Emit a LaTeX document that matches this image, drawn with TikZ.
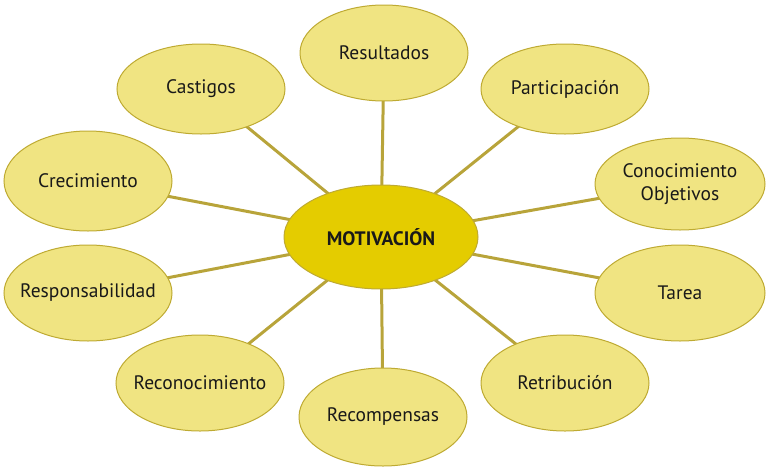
\documentclass[tikz,border=0pt]{standalone}
\usepackage{fontspec}
\setmainfont{PT Sans}
\usetikzlibrary{shapes.geometric,backgrounds}
\begin{document}
\begin{tikzpicture}[x=1pt,y=-1pt,
  outer/.style={ellipse, draw=bordercol, line width=1pt, fill=outerfill, minimum width=168pt, minimum height=96pt, inner sep=0pt},
  lbl/.style={align=center, inner sep=0pt, font=\fontsize{19.5}{23}\selectfont, text=black!90},
  centre/.style={ellipse, draw=bordercol, line width=1pt, fill=centrefill, minimum width=194pt, minimum height=104pt, inner sep=0pt},
  clbl/.style={inner sep=0pt, font=\fontsize{19.5}{23}\selectfont\bfseries, text=black!90},
  link/.style={draw=linkcol, line width=3pt}]
\definecolor{outerfill}{RGB}{240,228,130}
\definecolor{centrefill}{RGB}{228,204,0}
\definecolor{bordercol}{RGB}{190,170,50}
\definecolor{linkcol}{RGB}{184,164,58}
\useasboundingbox (0,0) rectangle (768,469);
\node[centre, label={[clbl]center:MOTIVACIÓN}] (m) at (381,237) {};
\node[outer, label={[lbl]center:Resultados}] (res) at (384,53) {};
\node[outer, minimum height=90pt, label={[lbl]center:Castigos}] (cas) at (201,89) {};
\node[outer, minimum height=90pt, label={[lbl]center:Participación}] (par) at (565,89) {};
\node[outer, minimum height=100pt, label={[lbl]center:Crecimiento}] (cre) at (88,181) {};
\node[outer, minimum width=170pt, minimum height=92pt, label={[lbl]center:{Conocimiento\\Objetivos}}] (con) at (680,184) {};
\node[outer, label={[lbl]center:Responsabilidad}] (resp) at (88,293) {};
\node[outer, minimum width=170pt, label={[lbl]center:Tarea}] (tar) at (680,293) {};
\node[outer, label={[lbl]center:Reconocimiento}] (rec) at (200,383) {};
\node[outer, label={[lbl]center:Retribución}] (ret) at (565,383) {};
\node[outer, minimum height=98pt, label={[lbl]center:Recompensas}] (rcp) at (383,417) {};
\begin{scope}[on background layer]
\foreach \t in {res,cas,par,cre,con,resp,tar,rec,ret,rcp}
  \draw[link] (m.center) -- (\t.center);
\end{scope}
\end{tikzpicture}
\end{document}
